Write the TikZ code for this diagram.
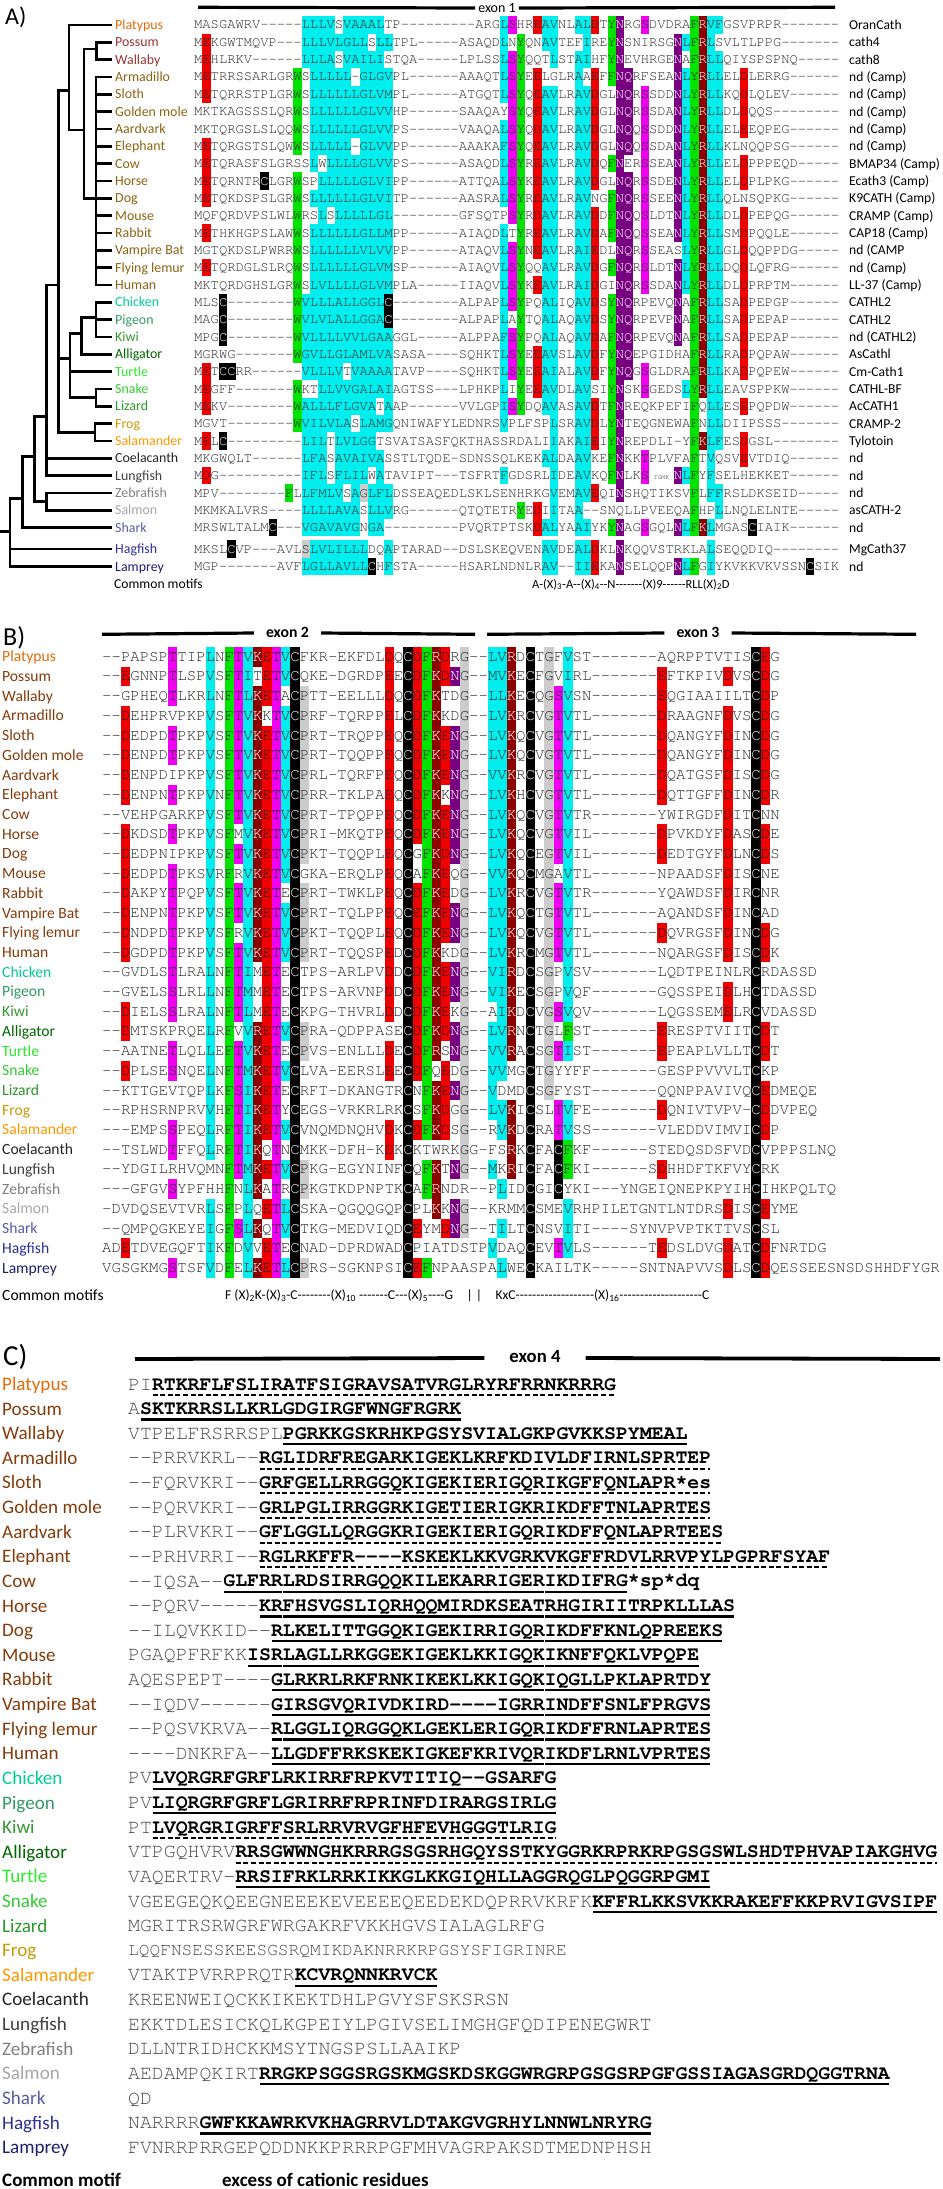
\documentclass[tikz,border=0pt]{standalone}
\usepackage{fontspec}
\setmainfont{Carlito}
\newfontfamily\seqfont{TeX Gyre Cursor}
\definecolor{aln-c}{RGB}{0,238,238}
\definecolor{aln-r}{RGB}{240,0,0}
\definecolor{aln-g}{RGB}{0,228,0}
\definecolor{aln-m}{RGB}{240,0,240}
\definecolor{aln-p}{RGB}{120,0,128}
\definecolor{aln-d}{RGB}{140,0,0}
\definecolor{aln-k}{RGB}{0,0,0}
\definecolor{aln-y}{RGB}{204,204,204}
\definecolor{cPlat}{HTML}{E46C0A}
\definecolor{cMars}{HTML}{953735}
\definecolor{cEuth}{HTML}{8C6414}
\definecolor{cBrown}{HTML}{843C0C}
\definecolor{cChick}{HTML}{00CC99}
\definecolor{cPig}{HTML}{339966}
\definecolor{cKiwi}{HTML}{339933}
\definecolor{cAlli}{HTML}{006600}
\definecolor{cTurt}{HTML}{2EE82E}
\definecolor{cSnake}{HTML}{33CC33}
\definecolor{cLiz}{HTML}{2A9A2A}
\definecolor{cFrog}{HTML}{CC9900}
\definecolor{cSala}{HTML}{FF9900}
\definecolor{cCoel}{HTML}{262626}
\definecolor{cLung}{HTML}{404040}
\definecolor{cZeb}{HTML}{808080}
\definecolor{cSalm}{HTML}{A6A6A6}
\definecolor{cShark}{HTML}{5B5BA8}
\definecolor{cHag}{HTML}{2E2E9A}
\definecolor{cLamp}{HTML}{1F1F6E}
\definecolor{seqtext}{HTML}{262626}
\definecolor{seqgrayC}{HTML}{4A4A4A}

\ExplSyntaxOn
\prop_new:N \g_aln_prop
\int_new:N \l_aln_col_int
\tl_new:N \l_aln_bg_tl
\tl_new:N \l_aln_ovr_tl
\tl_new:N \l_aln_key_tl
\bool_new:N \l_aln_bang_bool
\str_new:N \l_aln_seq_str
\dim_new:N \l_aln_cw_dim
\dim_new:N \l_aln_ht_dim
\dim_new:N \l_aln_dp_dim
\NewDocumentCommand \AlnParams { m m m }
 {
  \dim_set:Nn \l_aln_cw_dim {#1}
  \dim_set:Nn \l_aln_ht_dim {#2}
  \dim_set:Nn \l_aln_dp_dim {#3}
 }
\NewDocumentCommand \AlnSet { m m m m }
 { \tl_map_inline:nn {#3} { \prop_gput:Nnn \g_aln_prop { #1/#2/##1 } {#4} } }
\NewDocumentCommand \AlnRange { m m m m m }
 {
  \int_step_inline:nnn {#2} {#3}
   { \tl_map_inline:nn {#4} { \prop_gput:Nnn \g_aln_prop { #1/##1/####1 } {#5} } }
 }
\cs_new_protected:Npn \aln_cell:nn #1#2
 {
  \hbox_to_wd:nn { \l_aln_cw_dim }
   {
    \tl_if_blank:nF {#2}
     {
      \hbox_overlap_right:n
       { \color{aln-#2} \vrule width \l_aln_cw_dim height \l_aln_ht_dim depth \l_aln_dp_dim }
     }
    \vrule width \c_zero_dim height \l_aln_ht_dim depth \l_aln_dp_dim
    \hfil
    \str_case:nnF {#2} { {k} { \color{white} } {d} { \color{white} } {p} { \color{white} } } { }
    #1
    \hfil
   }
 }
\cs_generate_variant:Nn \aln_cell:nn { nV }
\cs_new_protected:Npn \aln_small:
 {
  \int_add:Nn \l_aln_col_int { 3 }
  \hbox_to_wd:nn { 3\l_aln_cw_dim }
   {
    \vrule width \c_zero_dim height \l_aln_ht_dim depth \l_aln_dp_dim
    \hfil \fontsize{6.5}{7}\selectfont TGMK \hfil
   }
 }
\cs_new_protected:Npn \aln_char:nn #1#2
 {
  \int_incr:N \l_aln_col_int
  \tl_if_empty:NTF \l_aln_ovr_tl
   {
    \tl_set:Nx \l_aln_key_tl { #1/\int_use:N \l_aln_col_int/#2 }
    \exp_args:NNV \prop_get:NnNF \g_aln_prop \l_aln_key_tl \l_aln_bg_tl
     {
      \tl_set:Nx \l_aln_key_tl { #1/0/#2 }
      \exp_args:NNV \prop_get:NnNF \g_aln_prop \l_aln_key_tl \l_aln_bg_tl
       { \tl_clear:N \l_aln_bg_tl }
     }
   }
   { \tl_set_eq:NN \l_aln_bg_tl \l_aln_ovr_tl \tl_clear:N \l_aln_ovr_tl }
  \aln_cell:nV {#2} \l_aln_bg_tl
 }
\NewDocumentCommand \AlnRow { m m }
 {
  \str_set:Nx \l_aln_seq_str {#2}
  \int_zero:N \l_aln_col_int
  \bool_set_false:N \l_aln_bang_bool
  \tl_clear:N \l_aln_ovr_tl
  \str_map_inline:Nn \l_aln_seq_str
   {
    \bool_if:NTF \l_aln_bang_bool
     { \tl_set:Nn \l_aln_ovr_tl {##1} \bool_set_false:N \l_aln_bang_bool }
     {
      \str_case:nnF {##1}
       {
        { ! } { \bool_set_true:N \l_aln_bang_bool }
        { @ } { \aln_small: }
       }
       { \aln_char:nn {#1} {##1} }
     }
   }
 }
\NewDocumentCommand \hys { m } { \prg_replicate:nn {#1} { -\kern 0pt } }
\ExplSyntaxOff

% ---------- colour rules, panel A ----------
\AlnSet{A}{0}{C}{k}
\AlnSet{A}{2}{ED}{r}
\AlnSet{A}{12}{F}{g}
\AlnSet{A}{13}{W}{g}
\AlnRange{A}{14}{24}{LVIAFMG}{c}
\AlnSet{A}{38}{LIVAF}{c}
\AlnSet{A}{39}{S}{m}
\AlnSet{A}{40}{Y}{g}
\AlnSet{A}{42}{ED}{r}
\AlnSet{A}{43}{A}{c}
\AlnSet{A}{44}{VLI}{c}
\AlnSet{A}{47}{AI}{c}
\AlnSet{A}{48}{VIL}{c}
\AlnSet{A}{49}{DE}{r}
\AlnSet{A}{51}{FY}{g}
\AlnSet{A}{52}{N}{p}
\AlnSet{A}{53}{Q}{p}
\AlnSet{A}{55}{ST}{m}
\AlnSet{A}{59}{N}{p}
\AlnSet{A}{60}{L}{c}
\AlnSet{A}{61}{FY}{g}
\AlnSet{A}{62}{RK}{d}
\AlnSet{A}{63}{LVFI}{c}
\AlnSet{A}{64}{LF}{c}
\AlnSet{A}{67}{DE}{r}
% ---------- colour rules, panel B ----------
\AlnSet{B}{0}{C}{k}
\AlnSet{B}{3}{DE}{r}
\AlnSet{B}{8}{TS}{m}
\AlnSet{B}{12}{LVI}{c}
\AlnSet{B}{14}{F}{g}
\AlnSet{B}{15}{TS}{m}
\AlnSet{B}{16}{VIML}{c}
\AlnSet{B}{17}{KR}{d}
\AlnSet{B}{18}{E}{r}
\AlnSet{B}{19}{T}{m}
\AlnSet{B}{20}{VIL}{c}
\AlnSet{B}{22}{P}{y}
\AlnSet{B}{31}{DE}{r}
\AlnSet{B}{34}{DE}{r}
\AlnSet{B}{35}{F}{g}
\AlnSet{B}{36}{KR}{d}
\AlnSet{B}{37}{DE}{r}
\AlnSet{B}{38}{N}{p}
\AlnSet{B}{39}{G}{y}
\AlnSet{B}{42}{LVIM}{c}
\AlnSet{B}{43}{VIL}{c}
\AlnSet{B}{44}{KR}{d}
\AlnSet{B}{48}{G}{y}
\AlnSet{B}{49}{TS}{m}
\AlnSet{B}{50}{VI}{c}
\AlnSet{B}{50}{F}{g}
\AlnSet{B}{60}{DE}{r}
\AlnSet{B}{67}{DE}{r}
\AlnSet{B}{71}{DE}{r}

\newcommand\crow[8]{%
  \pgfmathsetmacro\yy{1384.3+24.62*#1}%
  \node[nameC,text=#3] (nC#1) at (2,\yy) {#2};%
  \node[seqC] (pC#1) at (128,\yy) {\AlnRow{C}{#4}};%
  \node[seqCb] (bC#1) at ({128+11.9*#5},\yy) {\AlnRow{C}{#6}};%
  \foreach \a/\b in {#8}{\draw[#7] ({128+11.9*(#5+\a)+0.7},{\yy+10.5}) -- ({128+11.9*(#5+\b)-0.7},{\yy+10.5});}%
}
\newcommand\cplain[4]{%
  \pgfmathsetmacro\yy{1384.3+24.62*#1}%
  \node[nameC,text=#3] (nC#1) at (2,\yy) {#2};%
  \node[seqC] (pC#1) at (128,\yy) {\AlnRow{C}{#4}};%
}

\begin{document}
\begin{tikzpicture}[x=1pt,y=-1pt,
  nameA/.style={anchor=west,inner sep=0pt,font=\fontsize{13.9}{14}\selectfont,text height=9pt,text depth=0pt},
  labA/.style={anchor=west,inner sep=0pt,font=\fontsize{13.6}{14}\selectfont,text height=8.8pt,text depth=0pt,text=black},
  seqA/.style={anchor=west,inner sep=0pt,font=\seqfont\fontsize{13.78}{14}\selectfont,text=seqtext},
  nameB/.style={anchor=west,inner sep=0pt,font=\fontsize{15.6}{16}\selectfont,text height=10pt,text depth=0pt},
  seqB/.style={anchor=west,inner sep=0pt,font=\seqfont\fontsize{15.68}{16}\selectfont,text=seqtext},
  nameC/.style={anchor=west,inner sep=0pt,font=\fontsize{19.1}{20}\selectfont,text height=12.3pt,text depth=0pt},
  seqC/.style={anchor=west,inner sep=0pt,font=\seqfont\fontsize{19.83}{20}\selectfont,text=seqgrayC},
  seqCb/.style={seqC,font=\seqfont\bfseries\fontsize{19.83}{20}\selectfont,text=black},
  plab/.style={anchor=west,inner sep=0pt,text height=17pt,text depth=0pt},
  exlab/.style={inner ysep=0pt,text height=9pt,text depth=0pt},
  exon/.style={line width=3.2pt},
  tree/.style={line width=2.8pt,line cap=rect},
  tick/.style={line width=2.8pt,shorten >=4pt},
  sol/.style={line width=2.2pt},
  dsh/.style={line width=2pt,dash pattern=on 5pt off 2.6pt},
  motif/.style={anchor=west,inner sep=0pt,text height=8pt,text depth=0pt}
]
\useasboundingbox (0,0) rectangle (942,2189);
\fill[white] (0,0) rectangle (942,2189);

% ================= PANEL A =================
\node[plab,font=\fontsize{24}{24}\selectfont] (pA) at (5,16) {A)};
\node[exlab,inner xsep=3pt,font=\fontsize{14}{14}\selectfont] (ex1) at (497,8) {exon 1};
\draw[exon] (198,7.3) -- (ex1.west);
\draw[exon] (ex1.east) -- (835,7.3);

\AlnParams{8.27pt}{12.67pt}{4.67pt}
\foreach \i/\y/\nm/\cl/\sq/\lb in {
0/25/Platypus/cPlat/MASGAWRV-----LLLVSVAAALTP---------ARGLSHREAVNLALDTYNRGSDVDRAFRVFGSVPRPR-------/OranCath,
1/42.33/Possum/cMars/MEKGWTMQVP---LLLVLGLLSLLTPL-----ASAQDLNYQNAVTEFIREYNSNIRSGNLFRLSVLTLPPG-------/cath4,
2/59.67/Wallaby/cMars/MEHLRKV------LLLASVAILISTQA-----LPLSSLSYQQTLSTAIHFYNEVHRGENAFRLLQIYSPSPNQ-----/cath8,
3/77/Armadillo/cEuth/METRRSSARLGRWSLLLLL-GLGVPL------AAAQTLSYEELGLRAAEFFNQRFSEANLYRLLELDLERRG------/nd (Camp),
4/94.33/Sloth/cEuth/METQRRSTPLGRWSLLLLLLGLVMPL------ATGQTLSYQEAVLRAVDGLNQRSSDDNLYRLLKQDLQLEV------/nd (Camp),
5/111.67/Golden mole/cEuth/MKTKAGSSSLQRWSLLLLLLGLVVHP------SAAQAYSYQEAVLRAVDGLNQRSSDANLYRLLDLDQQS--------/nd (Camp),
6/129/Aardvark/cEuth/MKTQRGSLSLQQWSLLLLLLGLVVPS------VAAQALSYQDAVLRAVDGLNQQSSDDNLYRLLELEEQPEG------/nd (Camp),
7/146.33/Elephant/cEuth/METQRGSTSLQWWSLLLLL-GLVVPP------AAAKAFSYQEAVLRAVDGLNQQSSDANLYRLLKLNQQPSG------/nd (Camp),
8/163.67/Cow/cEuth/METQRASFSLGRSSLWLLLLGLVVPS------ASAQDLSYREAVLRAVDQFNERSSEANLYRLLELDPPPEQD-----/BMAP34 (Camp),
9/181/Horse/cEuth/METQRNTRCLGRWSPLLLLLGLVIPP------ATTQALSYKEAVLRAVDGLNQRSSDENLYRLLELDPLPKG------/Ecath3 (Camp),
10/198.33/Dog/cEuth/METQKDSPSLGRWSLLLLLLGLVITP------AASRALSYREAVLRAVNGFNQRSSEENLYRLLQLNSQPKG------/K9CATH (Camp),
11/215.67/Mouse/cEuth/MQFQRDVPSLWLWRSLSLLLLLGL--------GFSQTPSYRDAVLRAVDDFNQQSLDTNLYRLLDLDPEPQG------/CRAMP (Camp),
12/233/Rabbit/cEuth/METHKHGPSLAWWSLLLLLLGLLMPP------AIAQDLTYREAVLRAVDAFNQQSSEANLYRLLSMDPQQLE------/CAP18 (Camp),
13/250.33/Vampire Bat/cEuth/MGTQKDSLPWRRWSLLLLLLVLVVPP------ATAQVLSYNEAVLRAIEDLNQRSSEASLYRLLGLDQQPPDG-----/nd (CAMP,
14/267.67/Flying lemur/cEuth/METQRDGLSLRQWSLLLLLLGLVMSP------AIAQVLSYQQAVLRAVDGFNQRSLDTNLYRLLDQDLQFRG------/nd (Camp),
15/285/Human/cEuth/MKTQRDGHSLGRWSLVLLLLGLVMPLA-----IIAQVLSYKEAVLRAIDGINQRSSDANLYRLLDLDPRPTM------/LL-37 (Camp),
16/302.33/Chicken/cChick/MLSC--------WVLLLALLGGLC--------ALPAPLSYPQALIQAVDSYNQRPEVQNAFRLLSADPEPGP------/CATHL2,
17/319.67/Pigeon/cPig/MAGC--------WVLVLALLGGAC--------ALPAPLAYTQALAQAVDSYNQRPEVPNAFRLLSADPEPAP------/CATHL2,
18/337/Kiwi/cKiwi/MPGC--------WVLLLLVVLGAAGGL-----ALPPAFSYPQALAQAVDAFNQRPEVQNAFRLLSADPEPAP------/nd (CATHL2),
19/354.33/Alligator/cAlli/MGRWG-------WGVLLGLAMLVASASA----SQHKTLSYEEAVSLAVDFYNQEPGIDHAFRLLRADPQPAW------/AsCathl,
20/371.67/Turtle/cTurt/METCCRR------VLLLVTVAAAATAVP----SQHKTLSYEEAIALAVDFYNQGSGLDRAFRLLKADPQPEW------/Cm-Cath1,
21/389/Snake/cSnake/MEGFF-------WKTLLVVGALAIAGTSS---LPHKPLIYEEAVDLAVSIYNSKSGEDSLYRLLEAVSPPKW------/CATHL-BF,
22/406.33/Lizard/cLiz/MEKV--------WALLLFLGVATAAP------VVLGPISYDQAVASAVDTFNREQKPEFIFQLLESEPQPDW------/AcCATH1,
23/423.67/Frog/cFrog/MGVT--------WVILVLASLAMGQNIWAFYLEDNRSVPLFSPLSRAVDLYNTEQGNEWAFNLLDIIPSSS-------/CRAMP-2,
24/441/Salamander/cSala/MELC---------LILTLVLGGTSVATSASFQKTHASSRDALIIAKAIEIYNREPDLI-YFKLFESDGSL--------/Tylotoin,
25/458.33/Coelacanth/cCoel/MKGWQLT------LFASAVAIVASSTLTQDE-SDNSSQLKEKALDAAVKEFNKKTPLVFAFTVQSVEVTDIQ------/nd,
26/475.67/Lungfish/cLung/MDG----------IFLSFLILWATAVIPT---TSFRTFGDSRLIDEAVKQFNLKS@NLFYFSELHEKKET------/nd,
27/493/Zebrafish/cZeb/MPV--------FLLFMLVSA!yGLFLDSSEAQEDLSKLSENHRKGVEMAVEQINSHQTIKSVFLFFRSLDKSEID-----/nd,
28/510.33/Salmon/cSalm/MKMKALVRS----LLLLAVASLLVRG------QTQTETRYEDIITAA--SNQLLPVEEQAFHPLLNQLELNTE-----/asCATH-2,
29/527.67/Shark/cShark/MRSWLTALMC---VGAVAVGNGA---------PVQRTPTSKDALYAAIYKYNAGSGQLNLFKLMGASCIAIK------/nd,
30/549/Hagfish/cHag/MKSLCVP---AVL!ySLVLILLLDQAPTARAD--DSLSKEQVENAVDEALDKLNKQQVSTRKLALSEQQDIQ--------/MgCath37,
31/566.67/Lamprey/cLamp/MGP-------AVFLGLLAVLLCHFSTA-----HSARLNDNLRAV--IIEKANSELQQPNLFGIYKVKKVKVSSNCSIK/nd%
}{
  \node[nameA,text=\cl] (nA\i) at (115,\y) {\nm};
  \node[seqA] (sA\i) at (194,\y) {\AlnRow{A}{\sq}};
  \node[labA] (lA\i) at (849,\y) {\lb};
}

% tree
\begin{scope}[tree]
\draw (69,25) -- (69,130);
\draw[tick] (69,0 |- nA0.west) -- (nA0.west);
\draw (96.7,42.33) -- (96.7,59.67);
\draw[tick] (96.7,0 |- nA1.west) -- (nA1.west);
\draw[tick] (96.7,0 |- nA2.west) -- (nA2.west);
\draw (84,49) -- (96.7,49);
\draw (96,77) -- (96,285);
\foreach \k in {3,...,15} {\draw[tick] (96,0 |- nA\k.west) -- (nA\k.west);}
\draw (84,49) -- (84,198.33);
\draw[tick] (84,0 |- nA10.west) -- (nA10.west);
\draw (69,130) -- (84,130);
\draw (58.3,90.7) -- (69,90.7);
\draw (96,302.33) -- (96,337);
\foreach \k in {16,17,18} {\draw[tick] (96,0 |- nA\k.west) -- (nA\k.west);}
\draw (81.7,317.3) -- (96,317.3);
\draw (81.7,317.3) -- (81.7,354.33);
\draw[tick] (81.7,0 |- nA19.west) -- (nA19.west);
\draw (70,333.3) -- (81.7,333.3);
\draw (96,389) -- (96,406.33);
\foreach \k in {21,22} {\draw[tick] (96,0 |- nA\k.west) -- (nA\k.west);}
\draw (70,397.3) -- (96,397.3);
\draw (70,333.3) -- (70,397.3);
\draw[tick] (70,0 |- nA20.west) -- (nA20.west);
\draw (58.3,358.7) -- (70,358.7);
\draw (95,423.67) -- (95,441);
\foreach \k in {23,24} {\draw[tick] (95,0 |- nA\k.west) -- (nA\k.west);}
\draw (58.3,432.7) -- (95,432.7);
\draw (58.3,90.7) -- (58.3,432.7);
\draw (46.7,285) -- (58.3,285);
\draw (46.7,285) -- (46.7,475.67);
\foreach \k in {25,26} {\draw[tick] (46.7,0 |- nA\k.west) -- (nA\k.west);}
\draw (34.3,416.7) -- (46.7,416.7);
\draw (46.7,493) -- (46.7,510.33);
\foreach \k in {27,28} {\draw[tick] (46.7,0 |- nA\k.west) -- (nA\k.west);}
\draw (34.3,501.7) -- (46.7,501.7);
\draw (34.3,416.7) -- (34.3,501.7);
\draw (22.3,456.7) -- (34.3,456.7);
\draw (22.3,456.7) -- (22.3,527.67);
\draw[tick] (22.3,0 |- nA29.west) -- (nA29.west);
\draw (10,498.3) -- (22.3,498.3);
\draw (10,498.3) -- (10,566.67);
\foreach \k in {30,31} {\draw[tick] (10,0 |- nA\k.west) -- (nA\k.west);}
\draw (1.5,531.7) -- (10,531.7);
\end{scope}

\node[labA] (cmA) at (114,584) {Common motifs};
\node[motif,font=\fontsize{12.5}{13}\selectfont] (mtA) at (532,584) {A\hys1(X)\textsubscript{3}\hys1A\hys2(X)\textsubscript{4}\hys2N\hys7(X)9\hys6 RLL(X)\textsubscript{2}D};

% ================= PANEL B =================
\node[plab,font=\fontsize{26}{26}\selectfont] (pB) at (3,637) {B)};
\node[exlab,inner xsep=12pt,font=\bfseries\fontsize{15.7}{16}\selectfont] (ex2) at (287.5,633) {exon 2};
\draw[exon] (102,634.3) -- (ex2.west);
\draw[exon] (ex2.east) -- (475,634.3);
\node[exlab,inner xsep=12pt,font=\bfseries\fontsize{15.7}{16}\selectfont] (ex3) at (698,633) {exon 3};
\draw[exon] (487,634.3) -- (ex3.west);
\draw[exon] (ex3.east) -- (916,634.3);

\AlnParams{9.41pt}{14.41pt}{5.31pt}
\foreach \i/\nm/\cl/\sq in {
0/Platypus/cPlat/--PAPSPTTIPLNFTVKETVCFKR-EKFDLDQCDFRDRG--LVRDCTGFVST-------AQRPPTVTISCEG,
1/Possum/cBrown/--EGNNPTLSPVSFTITETVCQKE-DGRDPEECDFKDNG--MVKECFGVIRL-------EFTKPIVDVSCDG,
2/Wallaby/cBrown/--GPHEQTLKRLNFTLKETACPTT-EELLLDQCDFKTDG--LLKECQGSVSN-------EQGIAAIILTCDP,
3/Armadillo/cBrown/--DEHPRVPKPVSFTVKKTVCPRF-TQRPPELCDFKKDG--LVKRCVGTVTL-------DRAAGNFDVSCDG,
4/Sloth/cBrown/--DEDPDTPKPVSFTVKETVCPRT-TRQPPEQCDFKENG--LVKQCVGTVTL-------DQANGYFDINCDG,
5/Golden mole/cBrown/--DENPDTPKPVSFTVKETVCPRT-TQQPPEQCDFKENG--LVKQCVGTVTL-------DQANGYFDINCDG,
6/Aardvark/cBrown/--DENPDIPKPVSFTVKETVCPRL-TQRFPEQCDFKENG--VVKRCVGTVTL-------DQATGSFDISCDG,
7/Elephant/cBrown/--DENPNTPKPVNFTVKETVCPRR-TKLPAEQCDFKKNG--LVKHCVGTVTL-------DQTTGFFDINCDR,
8/Cow/cBrown/--VEHPGARKPVSFTVKETVCPRT-TPQPPEQCDFKENG--LVKQCVGTVTR-------YWIRGDFDITCNN,
9/Horse/cBrown/--DKDSDTPKPVSFMVKETVCPRI-MKQTPEQCDFKENG--LVKQCVGTVIL-------DPVKDYFDASCDE,
10/Dog/cBrown/--DEDPNIPKPVSFTVKETVCPKT-TQQPLEQCGFKDNG--LVKQCEGTVIL-------DEDTGYFDLNCDS,
11/Mouse/cBrown/--DEDPDTPKSVRFRVKETVCGKA-ERQLPEQCAFKEQG--VVKQCMGAVTL-------NPAADSFDISCNE,
12/Rabbit/cBrown/--DAKPYTPQPVSFTVKETECPRT-TWKLPEQCDFKEDG--LVKRCVGTVTR-------YQAWDSFDIRCNR,
13/Vampire Bat/cBrown/--DENPNTPKPVSFTVKETVCPRT-TQLPPEQCEFKENG--LVKQCTGTVTL-------AQANDSFDINCAD,
14/Flying lemur/cBrown/--DNDPDTPKPVSFRVKETVCPKT-TQQPLEQCDFKENG--LVKQCVGTVTL-------DQVRGSFDINCDG,
15/Human/cBrown/--DGDPDTPKPVSFTVKETVCPRT-TQQSPEDCDFKKDG--LVKRCMGTVTL-------NQARGSFDISCDK,
16/Chicken/cChick/--GVDLSTLRALNFTIMETECTPS-ARLPVDDCDFKENG--VIRDCSGPVSV-------LQDTPEINLRCRDASSD,
17/Pigeon/cPig/--GVELSSLRLLNFTMMETECTPS-ARVNPDDCDFKENG--VIKECSGPVQF-------GQSSPEIDLHCTDASSD,
18/Kiwi/cKiwi/--DIELSSLRALNFTLMETECKPG-THVRLDDCDFKEKG--AIKDCVGSVQV-------LQGSSEMELRCVDASSD,
19/Alligator/cAlli/--DMTSKPRQELRFVVRETVCPRA-QDPPASECDFKDNG--LVRNCTGLFST-------ERESPTVIITCDT,
20/Turtle/cTurt/--AATNETLQLLEFTVKETECPVS-ENLLLDECDFRSNG--VVRACSGTIST-------EPEAPLVLLTCDT,
21/Snake/cSnake/--DPLSESNQELNFTMKETVCLVA-EERSLEECDFQEDG--VVMGCTGYYFF-------GESPPVVVLTCKP,
22/Lizard/cLiz/--KTTGEVTQPLKFSIKETECRFT-DKANGTRCNFKENG--VDMDCSGFYST-------QQNPPAVIVQCEDMEQE,
23/Frog/cFrog/--RPHSRNPRVVHFTIKETYCEGS-VRKRLRKCSFKDGG--LVKICSLTVFE-------DQNIVTVPV-CDDVPEQ,
24/Salamander/cSala/---EMPSSPEQLRFTIKETVCVNQMDNQHVDKCDFKDSG--RVKDCRATVSS-------VLEDDVIMVICDP,
25/Coelacanth/cCoel/--TSLWDTFFQLRFTIKQTNCMKK-DFH-KDKCKTWRKGG-FSRKCFACFKF------STEDQSDSFVDCVPPPSLNQ,
26/Lungfish/cLung/--YDGILRHVQMNFTMKETVCPKG-EGYNINFCQFKTNG--MKRICFACFKI------SDHHDFTKFVYCRK,
27/Zebrafish/cZeb/---GFGVSYPFHHFNLKATRCPKGTKDPNPTKCAFRNDR--PLIDCGICYKI---YNGEIQNEPKPYIHCIHKPQLTQ,
28/Salmon/cSalm/-DVDQSEVTVRLSFPLQETLCSKA-QGQQGQPCPLKKNG--KRMMCSMEVRHPILETGNTLNTDRSDISCEYME,
29/Shark/cShark/--QMPQGKEYEIGFSLKQTVCTKG-MEDVIQDCEYMDNG--TILTCNSVITI----SYNVPVPTKTTVSCSL,
30/Hagfish/cHag/ADETDVEGQFTIKFDVVETECNAD-DPRDWADCPIATDSTPVDAQCEVTVLS------TEDSLDVGDATCDFNRTDG,
31/Lamprey/cLamp/VGSGKMGSTSFVDFELKETLCPRS-SGKNPSICEFNPAASPALWECKAILTK-----SNTNAPVVSDLSCDQESSEESNSDSHHDFYGR%
}{
  \pgfmathsetmacro\y{656.7+19.72*\i}
  \node[nameB,text=\cl] (nB\i) at (2,\y) {\nm};
  \node[seqB] (sB\i) at (102,\y) {\AlnRow{B}{\sq}};
}
\node[nameB] (cmB) at (2,1295) {Common motifs};
\node[motif,font=\fontsize{13.5}{14}\selectfont] (mtB) at (225,1295) {F (X)\textsubscript{2}K\hys1(X)\textsubscript{3}\hys1C\hys8 (X)\textsubscript{10} \hys7 C\hys3(X)\textsubscript{5}\hys4G\quad| |\quad KxC\hys{19}(X)\textsubscript{16}\hys{20}C};

% ================= PANEL C =================
\node[plab,font=\fontsize{29}{29}\selectfont] (pC) at (3,1357) {C)};
\node[exlab,inner xsep=25pt,font=\bfseries\fontsize{18.7}{19}\selectfont] (ex4) at (535,1358) {exon 4};
\draw[exon,line width=3.8pt] (135,1359) -- (ex4.west);
\draw[exon,line width=3.8pt] (ex4.east) -- (940,1359);

\AlnParams{11.9pt}{15.5pt}{4pt}
\crow{0}{Platypus}{cPlat}{PI}{2}{RTKRFLFSLIRATFSIGRAVSATVRGLRYRFRRNKRRRG}{dsh}{0/39}
\crow{1}{Possum}{cBrown}{A}{1}{SKTKRRSLLKRLGDGIRGFWNGFRGRK}{sol}{0/27}
\crow{2}{Wallaby}{cBrown}{VTPELFRSRRSPL}{13}{PGRKKGSKRHKPGSYSVIALGKPGVKKSPYMEAL}{sol}{0/34}
\crow{3}{Armadillo}{cBrown}{--PRRVKRL--}{11}{RGLIDRFREGARKIGEKLKRFKDIVLDFIRNLSPRTEP}{dsh}{0/38}
\crow{4}{Sloth}{cBrown}{--FQRVKRI--}{11}{GRFGELLRRGGQKIGEKIERIGQRIKGFFQNLAPR*es}{dsh}{0/38}
\crow{5}{Golden mole}{cBrown}{--PQRVKRI--}{11}{GRLPGLIRRGGRKIGETIERIGKRIKDFFTNLAPRTES}{dsh}{0/38}
\crow{6}{Aardvark}{cBrown}{--PLRVKRI--}{11}{GFLGGLLQRGGKRIGEKIERIGQRIKDFFQNLAPRTEES}{dsh}{0/39}
\crow{7}{Elephant}{cBrown}{--PRHVRRI--}{11}{RGLRKFFR----KSKEKLKKVGRKVKGFFRDVLRRVPYLPGPRFSYAF}{dsh}{0/48}
\crow{8}{Cow}{cBrown}{--IQSA--}{8}{GLFRRLRDSIRRGQQKILEKARRIGERIKDIFRG*sp*dq}{sol}{0/5,5/27,27/34}
\crow{9}{Horse}{cBrown}{--PQRV-----}{11}{KRFHSVGSLIQRHQQMIRDKSEATRHGIRIITRPKLLLAS}{sol}{0/2,2/24,24/40}
\crow{10}{Dog}{cBrown}{--ILQVKKID--}{12}{RLKELITTGGQKIGEKIRRIGQRIKDFFKNLQPREEKS}{sol}{0/23,23/38}
\crow{11}{Mouse}{cBrown}{PGAQPFRFKK}{10}{ISRLAGLLRKGGEKIGEKLKKIGQKIKNFFQKLVPQPE}{sol}{0/3,3/25,25/38}
\crow{12}{Rabbit}{cBrown}{AQESPEPT----}{12}{GLRKRLRKFRNKIKEKLKKIGQKIQGLLPKLAPRTDY}{sol}{0/23,23/37}
\crow{13}{Vampire Bat}{cBrown}{--IQDV------}{12}{GIRSGVQRIVDKIRD----IGRRINDFFSNLFPRGVS}{sol}{0/23,23/37}
\crow{14}{Flying lemur}{cBrown}{--PQSVKRVA--}{12}{RLGGLIQRGGQKLGEKLERIGQRIKDFFRNLAPRTES}{sol}{0/1,1/23,23/37}
\crow{15}{Human}{cBrown}{----DNKRFA--}{12}{LLGDFFRKSKEKIGKEFKRIVQRIKDFLRNLVPRTES}{sol}{0/23,23/37}
\crow{16}{Chicken}{cChick}{PV}{2}{LVQRGRFGRFLRKIRRFRPKVTITIQ--GSARFG}{sol}{0/34}
\crow{17}{Pigeon}{cPig}{PV}{2}{LIQRGRFGRFLGRIRRFRPRINFDIRARGSIRLG}{sol}{0/34}
\crow{18}{Kiwi}{cKiwi}{PT}{2}{LVQRGRIGRFFSRLRRVRVGFHFEVHGGGTLRIG}{dsh}{0/34}
\crow{19}{Alligator}{cAlli}{VTPGQHVRV}{9}{RRSGWWNGHKRRRGSGSRHGQYSSTKYGGRKRPRKRPGSGSWLSHDTPHVAPIAKGHVG}{dsh}{0/59}
\crow{20}{Turtle}{cTurt}{VAQERTRV-}{9}{RRSIFRKLRRKIKKGLKKGIQHLLAGGRQGLPQGGRPGMI}{sol}{0/40}
\crow{21}{Snake}{cSnake}{VGEEGEQKQEEGNEEEKEVEEEEQEEDEKDQPRRVKRFK}{39}{KFFRLKKSVKKRAKEFFKKPRVIGVSIPF}{sol}{0/29}
\cplain{22}{Lizard}{cLiz}{MGRITRSRWGRFWRGAKRFVKKHGVSIALAGLRFG}
\begin{scope}
\AlnParams{10.7pt}{14.6pt}{4pt}
\pgfmathsetmacro\yy{1384.3+24.62*23}
\node[nameC,text=cFrog] (nC23) at (2,\yy) {Frog};
\node[seqC,font=\seqfont\fontsize{17.8}{18}\selectfont] (pC23) at (128,\yy) {\AlnRow{C}{LQQFNSESSKEESGSRQMIKDAKNRRKRPGSYSFIGRINRE}};
\end{scope}
\AlnParams{11.9pt}{15.5pt}{4pt}
\crow{24}{Salamander}{cSala}{VTAKTPVRRPRQTR}{14}{KCVRQNNKRVCK}{sol}{0/12}
\cplain{25}{Coelacanth}{cCoel}{KREENWEIQCKKIKEKTDHLPGVYSFSKSRSN}
\cplain{26}{Lungfish}{cLung}{EKKTDLESICKQLKGPEIYLPGIVSELIMGHGFQDIPENEGWRT}
\cplain{27}{Zebrafish}{cZeb}{DLLNTRIDHCKKMSYTNGSPSLLAAIKP}
\crow{28}{Salmon}{cSalm}{AEDAMPQKIRT}{11}{RRGKPSGGSRGSKMGSKDSKGGWRGRPGSGSRPGFGSSIAGASGRDQGGTRNA}{sol}{0/53}
\cplain{29}{Shark}{cShark}{QD}
\crow{30}{Hagfish}{cHag}{NARRRR}{6}{GWFKKAWRKVKHAGRRVLDTAKGVGRHYLNNWLNRYRG}{sol}{0/38}
\cplain{31}{Lamprey}{cLamp}{FVNRRPRRGEPQDDNKKPRRRPGFMHVAGRPAKSDTMEDNPHSH}

\node[nameC,font=\bfseries\fontsize{19}{20}\selectfont] (cmC) at (2,2180) {Common motif};
\node[nameC,font=\bfseries\fontsize{19}{20}\selectfont] (exC) at (222,2180) {excess of cationic residues};
\end{tikzpicture}
\end{document}
